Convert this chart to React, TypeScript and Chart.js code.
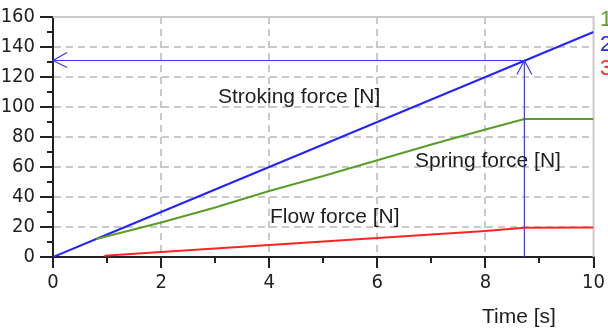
import React, { useEffect, useRef } from "react";
import { Chart, registerables } from "chart.js";

Chart.register(...registerables);

// ---- data ----
const strokingX = [0, 1, 2, 3, 4, 5, 6, 7, 8, 9, 10];
const strokingY = [0, 15, 30, 45, 60, 75, 90, 105, 120, 135, 150];

const springX = [0.8, 2, 3, 4, 5, 6, 7, 8, 8.72, 10];
const springY = [12, 23, 33, 44, 54, 64.5, 75, 85, 92, 92];

const flowX = [0.95, 2, 3, 4, 5, 6, 7, 8, 8.72, 10];
const flowY = [0.8, 3.4, 5.7, 8, 10.3, 12.6, 15, 17.4, 19.5, 19.7];

const markerX = 8.72;
const markerY = 131;

const xMin = 0;
const xMax = 10;
const yMin = 0;
const yMax = 160;
const xMajorStep = 2;
const yMajorStep = 20;
const xMinorTicks = [1, 3, 5, 7, 9];
const yMinorTicks = [10, 30, 50, 70, 90, 110, 130, 150];

const labelStroking = "Stroking force [N]";
const labelSpring = "Spring force [N]";
const labelFlow = "Flow force [N]";
const labelTime = "Time [s]";
const sideLabels = ["1", "2", "3"];

const BLUE = "#2323ff";
const GREEN = "#5a9e28";
const RED = "#ff2424";
const AXIS = "#222222";
const GRID = "#c9c9c9";
const FONT = "'Liberation Sans', Arial, sans-serif";
const TICK_FONT = "'Liberation Sans Narrow', 'DejaVu Sans Condensed', 'Liberation Sans', sans-serif";

const toPts = (xs: number[], ys: number[]) => xs.map((x, i) => ({ x, y: ys[i] }));

const overlayPlugin = {
  id: "overlay",
  beforeDatasetsDraw(chart: any) {
    const { ctx, chartArea } = chart;
    ctx.save();
    ctx.strokeStyle = GRID;
    ctx.lineWidth = 2;
    ctx.beginPath();
    ctx.moveTo(chartArea.left, chartArea.top);
    ctx.lineTo(chartArea.right, chartArea.top);
    ctx.lineTo(chartArea.right, chartArea.bottom);
    ctx.stroke();
    ctx.restore();
  },
  afterDatasetsDraw(chart: any) {
    const { ctx, chartArea } = chart;
    const xs = chart.scales.x;
    const ys = chart.scales.y;
    ctx.save();
    // minor ticks
    ctx.strokeStyle = AXIS;
    ctx.lineWidth = 2;
    ctx.beginPath();
    yMinorTicks.forEach((v) => {
      const py = Math.round(ys.getPixelForValue(v));
      ctx.moveTo(chartArea.left - 6, py);
      ctx.lineTo(chartArea.left, py);
    });
    xMinorTicks.forEach((v) => {
      const px = Math.round(xs.getPixelForValue(v));
      ctx.moveTo(px, chartArea.bottom);
      ctx.lineTo(px, chartArea.bottom + 6);
    });
    ctx.stroke();

    // marker arrows
    const mx = xs.getPixelForValue(markerX);
    const my = ys.getPixelForValue(markerY);
    const x0 = xs.getPixelForValue(xMin);
    const y0 = ys.getPixelForValue(yMin);
    ctx.strokeStyle = "#3a3aff";
    ctx.lineWidth = 1.2;
    ctx.beginPath();
    ctx.moveTo(x0, my);
    ctx.lineTo(mx, my);
    ctx.moveTo(mx, y0);
    ctx.lineTo(mx, my);
    // left arrowhead
    ctx.moveTo(x0 + 14, my - 8);
    ctx.lineTo(x0, my);
    ctx.lineTo(x0 + 14, my + 7);
    // up arrowhead
    ctx.moveTo(mx - 7.5, my + 14);
    ctx.lineTo(mx, my);
    ctx.lineTo(mx + 7.5, my + 14);
    ctx.stroke();

    // text labels
    ctx.fillStyle = "#1e1e1e";
    ctx.font = `21px ${FONT}`;
    ctx.textAlign = "left";
    ctx.textBaseline = "alphabetic";
    ctx.fillText(labelStroking, 218, 103);
    ctx.fillText(labelSpring, 415, 167);
    ctx.fillText(labelFlow, 270, 223);
    ctx.fillText(labelTime, 482, 323);

    // side labels
    const sideColors = [GREEN, BLUE, RED];
    const sideY = [26, 51, 75];
    ctx.font = `22px ${FONT}`;
    sideLabels.forEach((t, i) => {
      ctx.fillStyle = sideColors[i];
      ctx.fillText(t, 600, sideY[i]);
    });
    ctx.restore();
  },
};

export default function App() {
  const ref = useRef<HTMLCanvasElement | null>(null);
  useEffect(() => {
    if (!ref.current) return;
    const gridColor = (c: any, lo: number, hi: number) =>
      c.tick && (c.tick.value === lo || c.tick.value === hi) ? "rgba(0,0,0,0)" : GRID;
    const chart = new Chart(ref.current, {
      type: "line",
      data: {
        datasets: [
          { label: "Spring force", data: toPts(springX, springY), borderColor: GREEN, borderWidth: 2, pointRadius: 0, tension: 0 },
          { label: "Stroking force", data: toPts(strokingX, strokingY), borderColor: BLUE, borderWidth: 2, pointRadius: 0, tension: 0 },
          { label: "Flow force", data: toPts(flowX, flowY), borderColor: RED, borderWidth: 2, pointRadius: 0, tension: 0 },
        ],
      },
      options: {
        responsive: false,
        animation: false,
        events: [],
        layout: { padding: { left: 0, right: 12, top: 16, bottom: 0 } },
        plugins: { legend: { display: false }, tooltip: { enabled: false } },
        scales: {
          x: {
            type: "linear",
            min: xMin,
            max: xMax,
            afterFit: (s: any) => { s.height = 75; },
            ticks: { stepSize: xMajorStep, padding: 3, color: AXIS, font: { family: TICK_FONT, size: 20 }, maxRotation: 0 },
            grid: { color: (c: any) => gridColor(c, xMin, xMax), lineWidth: 2, tickLength: 11, tickColor: AXIS, tickWidth: 2 },
            border: { display: true, color: AXIS, width: 2, dash: [7, 5] },
          },
          y: {
            type: "linear",
            min: yMin,
            max: yMax,
            afterFit: (s: any) => { s.width = 53; },
            ticks: { stepSize: yMajorStep, padding: 5, color: AXIS, font: { family: TICK_FONT, size: 20 } },
            grid: { color: (c: any) => gridColor(c, yMin, yMax), lineWidth: 2, tickLength: 13, tickColor: AXIS, tickWidth: 2 },
            border: { display: true, color: AXIS, width: 2, dash: [7, 5] },
          },
        },
      },
      plugins: [overlayPlugin],
    } as any);
    return () => chart.destroy();
  }, []);
  return (
    <div style={{ position: "absolute", left: 0, top: 0, width: 608, height: 332, background: "#fff" }}>
      <canvas ref={ref} width={608} height={332} style={{ display: "block" }} />
    </div>
  );
}
